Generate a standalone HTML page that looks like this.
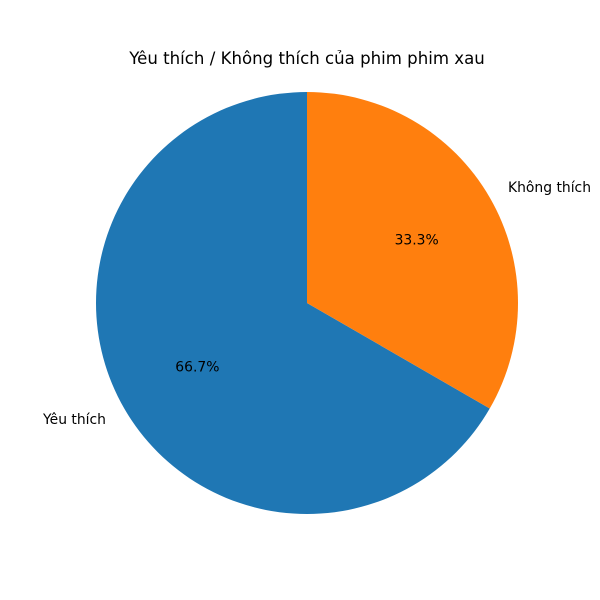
<!DOCTYPE html>
<html><head><meta charset="utf-8"><style>
body{margin:0;background:#fff;}
svg{display:block;font-family:"DejaVu Sans","Liberation Sans",sans-serif;}
</style></head><body>
<svg id="chart" width="600" height="600" viewBox="0 0 600 600">
<rect width="600" height="600" fill="#fff"/>
<text x="307" y="64" text-anchor="middle" font-size="16.6" fill="#000">Yêu thích / Không thích của phim phim xau</text>
</svg>
<script>
const categories = ["Yêu thích", "Không thích"];
const values = [2, 1];
const colors = ["#1f77b4", "#ff7f0e"];
const cx = 307, cy = 303, r = 211, startAngle = 90;
const svg = document.getElementById('chart');
const ns = 'http://www.w3.org/2000/svg';
const total = values.reduce((a, b) => a + b, 0);
function pt(angDeg, rad) {
  const a = angDeg * Math.PI / 180;
  return [cx + rad * Math.cos(a), cy - rad * Math.sin(a)];
}
let ang = startAngle;
values.forEach((v, i) => {
  const sweep = v / total * 360;
  const a0 = ang, a1 = ang + sweep;
  const [x0, y0] = pt(a0, r), [x1, y1] = pt(a1, r);
  const large = sweep > 180 ? 1 : 0;
  const p = document.createElementNS(ns, 'path');
  p.setAttribute('d', `M${cx},${cy} L${x0},${y0} A${r},${r} 0 ${large} 0 ${x1},${y1} Z`);
  p.setAttribute('fill', colors[i]);
  
  
  svg.appendChild(p);
  const mid = (a0 + a1) / 2;
  const [lx, ly] = pt(mid, r * 1.1);
  const t = document.createElementNS(ns, 'text');
  t.setAttribute('x', lx);
  t.setAttribute('y', ly + 5);
  t.setAttribute('font-size', '13.9');
  t.setAttribute('text-anchor', Math.cos(mid * Math.PI / 180) < 0 ? 'end' : 'start');
  t.textContent = categories[i];
  
  
  svg.appendChild(t);
  const [px, py] = pt(mid, r * 0.6);
  const q = document.createElementNS(ns, 'text');
  q.setAttribute('x', px);
  q.setAttribute('y', py + 5);
  q.setAttribute('font-size', '13.9');
  q.setAttribute('text-anchor', 'middle');
  q.textContent = (v / total * 100).toFixed(1) + '%';
  
  
  svg.appendChild(q);
  ang = a1;
});
</script>
</body></html>
